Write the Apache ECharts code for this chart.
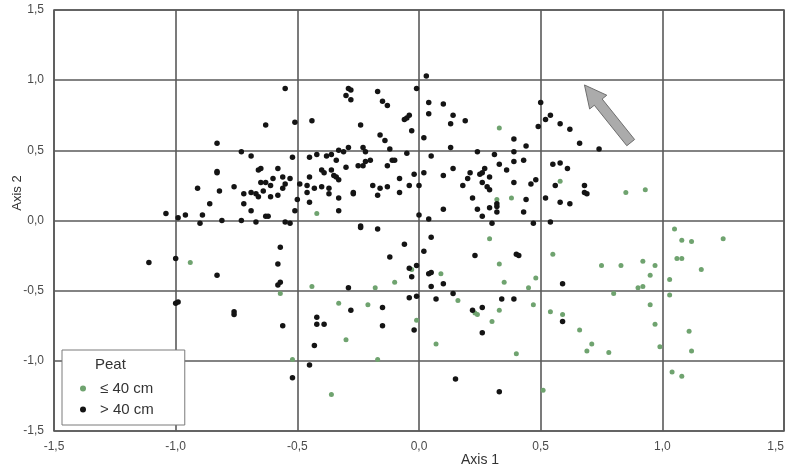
<!DOCTYPE html>
<html>
<head>
<meta charset="utf-8">
<script src="https://cdn.jsdelivr.net/npm/echarts@6/dist/echarts.min.js"></script>
<style>
  html, body { margin: 0; padding: 0; background: #fff; }
  #chart { width: 787px; height: 470px; }
</style>
</head>
<body>
<div id="chart"></div>
<script>
// Ordination scores (Axis 1, Axis 2) of the plots, split by peat depth.
const tickLabels = ['-1,5', '-1,0', '-0,5', '0,0', '0,5', '1,0', '1,5'];
const axisTitles = ['Axis 1', 'Axis 2'];
const legendTitle = 'Peat';
const seriesNames = ['\u2264 40 cm', '> 40 cm'];

const peatShallow = [
  [-0.94,-0.30],[-0.57,-0.52],[-0.52,-0.99],[0.33,0.66],[0.32,0.15],[0.38,0.16],[-0.42,0.05],
  [0.29,-0.13],[-0.03,-0.35],[0.09,-0.38],[0.33,-0.31],[0.48,-0.41],[-0.10,-0.44],[-0.44,-0.47],
  [-0.18,-0.48],[0.35,-0.44],[0.45,-0.48],[0.16,-0.57],[-0.33,-0.59],[-0.21,-0.60],[0.23,-0.66],
  [0.24,-0.67],[0.33,-0.64],[0.47,-0.60],[-0.01,-0.71],[0.30,-0.72],[-0.30,-0.85],[0.07,-0.88],
  [0.40,-0.95],[-0.17,-0.99],[-0.36,-1.24],[0.51,-1.21],[0.58,0.28],[0.85,0.20],[0.93,0.22],
  [1.05,-0.06],[1.08,-0.14],[1.12,-0.15],[1.25,-0.13],[0.55,-0.24],[0.75,-0.32],[0.83,-0.32],
  [0.92,-0.29],[0.97,-0.32],[1.16,-0.35],[1.06,-0.27],[1.08,-0.27],[0.95,-0.39],[1.03,-0.42],
  [0.90,-0.48],[0.92,-0.47],[0.80,-0.52],[1.03,-0.53],[0.54,-0.65],[0.59,-0.67],[0.95,-0.60],
  [0.97,-0.74],[0.66,-0.78],[1.11,-0.79],[0.71,-0.88],[0.69,-0.93],[0.78,-0.94],[0.99,-0.90],
  [1.12,-0.93],[1.04,-1.08],[1.08,-1.11]
];

const peatDeep = [
  [-0.55,0.94],[-0.51,0.70],[-0.63,0.68],[-0.83,0.55],[-0.73,0.49],[-0.69,0.46],[-0.52,0.45],
  [-0.83,0.35],[-0.83,0.34],[-0.66,0.36],[-0.65,0.37],[-0.58,0.37],[-0.65,0.27],[-0.63,0.27],
  [-0.60,0.30],[-0.56,0.31],[-0.53,0.30],[-0.91,0.23],[-0.76,0.24],[-0.82,0.21],[-0.72,0.19],
  [-0.69,0.20],[-0.67,0.19],[-0.66,0.17],[-0.64,0.21],[-0.61,0.25],[-0.56,0.23],[-0.55,0.26],
  [-0.61,0.17],[-0.58,0.18],[-0.50,0.15],[-0.86,0.12],[-0.72,0.12],[-0.51,0.07],[-1.04,0.05],
  [-0.99,0.02],[-0.96,0.04],[-0.89,0.04],[-0.69,0.07],[-0.63,0.03],[-0.62,0.03],[-0.81,0.00],
  [-0.73,0.00],[-0.67,-0.01],[-0.55,-0.01],[-0.53,-0.02],[-0.90,-0.02],
  [-0.57,-0.19],[-1.11,-0.30],[-1.00,-0.27],[-0.83,-0.39],[-0.58,-0.31],[-0.58,-0.46],[-0.57,-0.44],
  [-1.00,-0.59],[-0.99,-0.58],[-0.76,-0.65],[-0.76,-0.67],[-0.56,-0.75],[-0.52,-1.12],
  [0.03,1.03],[-0.01,0.94],[-0.29,0.94],[-0.28,0.93],[-0.30,0.89],[-0.28,0.86],[-0.17,0.92],
  [-0.15,0.85],[-0.13,0.82],[0.04,0.84],[0.10,0.83],[0.50,0.84],[0.04,0.76],[0.14,0.75],
  [0.13,0.69],[0.19,0.71],[-0.44,0.71],[-0.24,0.68],[-0.06,0.72],[-0.05,0.73],[-0.04,0.75],
  [-0.03,0.64],[0.49,0.67],[-0.16,0.61],[-0.14,0.57],[0.02,0.59],[0.39,0.58],[0.44,0.53],
  [-0.33,0.50],[-0.31,0.49],[-0.29,0.52],[-0.23,0.52],[-0.22,0.49],[-0.12,0.51],[0.13,0.52],
  [0.24,0.49],[0.39,0.49],[-0.45,0.45],[-0.42,0.47],[-0.38,0.46],[-0.36,0.47],[-0.34,0.43],
  [-0.30,0.38],[-0.25,0.39],[-0.23,0.39],[-0.22,0.42],[-0.20,0.43],[-0.13,0.39],[-0.11,0.43],
  [-0.10,0.43],[-0.05,0.48],[0.05,0.46],[0.31,0.47],[0.33,0.40],[0.39,0.42],[0.43,0.43],
  [0.14,0.37],[-0.40,0.36],[-0.39,0.34],[-0.36,0.36],[-0.35,0.32],[-0.34,0.31],[-0.02,0.33],
  [0.02,0.34],[0.10,0.32],[0.21,0.34],[0.25,0.33],[0.26,0.34],[0.27,0.37],[0.29,0.31],
  [0.36,0.36],[-0.45,0.31],[-0.33,0.29],[-0.08,0.30],[0.20,0.30],[0.26,0.27],[0.48,0.29],
  [-0.49,0.26],[-0.46,0.25],[-0.43,0.23],[-0.40,0.24],[-0.37,0.23],[-0.19,0.25],[-0.16,0.23],
  [-0.13,0.24],[-0.04,0.25],[0.00,0.25],[0.18,0.25],[0.28,0.24],[0.39,0.27],[0.46,0.26],
  [-0.46,0.20],[-0.37,0.19],[-0.27,0.19],[-0.27,0.20],[-0.17,0.18],[-0.08,0.20],[0.29,0.22],
  [-0.33,0.16],[0.22,0.16],[0.44,0.15],[-0.45,0.13],[0.32,0.12],[-0.33,0.07],[0.00,0.04],
  [0.10,0.08],[0.24,0.08],[0.29,0.09],[0.32,0.10],[0.26,0.03],[0.32,0.06],[0.43,0.06],
  [0.04,0.01],[0.30,-0.02],[0.47,-0.02],
  [-0.24,-0.04],[-0.24,-0.05],[-0.17,-0.06],[0.05,-0.12],[-0.06,-0.17],[0.02,-0.22],[-0.12,-0.26],
  [0.23,-0.25],[0.40,-0.24],[0.41,-0.25],[-0.01,-0.32],[-0.04,-0.34],[-0.03,-0.40],[0.04,-0.38],
  [0.05,-0.37],[-0.29,-0.48],[0.05,-0.47],[0.10,-0.45],[-0.04,-0.55],[-0.01,-0.54],[0.14,-0.52],
  [0.07,-0.56],[-0.15,-0.62],[-0.28,-0.64],[0.22,-0.64],[0.26,-0.62],[0.34,-0.56],[0.39,-0.56],
  [-0.42,-0.69],[-0.42,-0.74],[-0.39,-0.74],[-0.15,-0.75],[-0.02,-0.78],[0.26,-0.80],[-0.43,-0.89],
  [-0.45,-1.03],[0.15,-1.13],[0.33,-1.22],
  [0.52,0.72],[0.54,0.75],[0.58,0.69],[0.62,0.65],[0.66,0.55],[0.74,0.51],[0.55,0.40],
  [0.58,0.41],[0.61,0.37],[0.56,0.25],[0.68,0.25],[0.68,0.20],[0.69,0.19],[0.52,0.16],
  [0.58,0.13],[0.62,0.12],[0.54,-0.01],[0.59,-0.45],[0.59,-0.72]
];

// Direction arrow in score units: tail point, then tip.
const arrowTail = [0.87, 0.555];
const arrowTip = [0.68, 0.966];

const FONT = "'Liberation Sans', Arial, sans-serif";
const LINE = '#5a5a5a';
const GREEN = '#6fa36f';
const BLACK = '#141414';

const tickText = v => tickLabels[Math.round((v + 1.5) / 0.5)] || '';

const axisCommon = {
  type: 'value',
  min: -1.5,
  max: 1.5,
  interval: 0.5,
  axisLine: { show: false },
  axisTick: { show: false },
  splitLine: { show: true, lineStyle: { color: LINE, width: 1.6 } },
  axisLabel: {
    formatter: tickText,
    color: '#4a4a4a',
    fontFamily: FONT,
    fontSize: 12,
    margin: 10
  }
};

const chart = echarts.init(document.getElementById('chart'), null, { renderer: 'canvas' });

chart.setOption({
  animation: false,
  backgroundColor: '#ffffff',
  grid: {
    left: 54, right: 0, top: 10, bottom: 39,
    show: true, borderColor: LINE, borderWidth: 1.6, backgroundColor: 'transparent'
  },
  xAxis: Object.assign({}, axisCommon, {
    axisLabel: Object.assign({}, axisCommon.axisLabel, { alignMaxLabel: 'right' })
  }),
  yAxis: Object.assign({}, axisCommon),
  legend: {
    data: seriesNames,
    orient: 'vertical',
    left: 62,
    top: 350,
    padding: [31, 31, 8, 18],
    itemGap: 6,
    itemWidth: 6,
    itemHeight: 6,
    icon: 'circle',
    backgroundColor: '#ffffff',
    borderColor: '#7a7a7a',
    borderWidth: 1,
    borderRadius: 0,
    selectedMode: false,
    textStyle: { fontFamily: FONT, fontSize: 15, color: '#333', lineHeight: 14, padding: [0, 0, 0, 9] }
  },
  graphic: [
    {
      type: 'text', left: 95, top: 357, z: 100,
      style: { text: legendTitle, font: '15px ' + FONT, fill: '#333' }
    },
    {
      type: 'text', x: 480, y: 460, z: 100,
      style: { text: axisTitles[0], font: '14px ' + FONT, fill: '#333', align: 'center', verticalAlign: 'middle' }
    },
    {
      type: 'text', x: 17, y: 193, rotation: Math.PI / 2, z: 100,
      style: { text: axisTitles[1], font: '13px ' + FONT, fill: '#333', align: 'center', verticalAlign: 'middle' }
    }
  ],
  series: [
    {
      name: seriesNames[0],
      type: 'scatter',
      data: peatShallow,
      symbol: 'circle',
      symbolSize: 5,
      itemStyle: { color: GREEN, opacity: 1 },
      z: 3
    },
    {
      name: seriesNames[1],
      type: 'scatter',
      data: peatDeep,
      symbol: 'circle',
      symbolSize: 5.5,
      itemStyle: { color: BLACK, opacity: 1 },
      z: 3
    },
    {
      type: 'custom',
      silent: true,
      z: 4,
      data: [[arrowTail[0], arrowTail[1], arrowTip[0], arrowTip[1]]],
      encode: { x: [0, 2], y: [1, 3] },
      renderItem: function (params, api) {
        const a = api.coord([api.value(0), api.value(1)]);
        const b = api.coord([api.value(2), api.value(3)]);
        const dx = b[0] - a[0], dy = b[1] - a[1];
        const len = Math.sqrt(dx * dx + dy * dy);
        const ux = dx / len, uy = dy / len;
        const nx = -uy, ny = ux;
        const shaft = 5, head = 11, headLen = 22;
        const cx = b[0] - ux * headLen, cy = b[1] - uy * headLen;
        const pts = [
          [a[0] + nx * shaft, a[1] + ny * shaft],
          [cx + nx * shaft, cy + ny * shaft],
          [cx + nx * head, cy + ny * head],
          [b[0], b[1]],
          [cx - nx * head, cy - ny * head],
          [cx - nx * shaft, cy - ny * shaft],
          [a[0] - nx * shaft, a[1] - ny * shaft]
        ];
        return {
          type: 'polygon',
          shape: { points: pts },
          style: { fill: '#ababab', stroke: '#6e6e6e', lineWidth: 1 }
        };
      }
    }
  ]
});
</script>
</body>
</html>
